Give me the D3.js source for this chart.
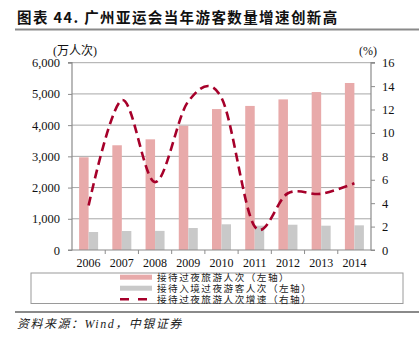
<!DOCTYPE html>
<html><head><meta charset="utf-8">
<script src="https://cdn.jsdelivr.net/npm/d3@7"></script>
<style>
html,body{margin:0;padding:0;background:#fff;}
svg{display:block;}
</style></head>
<body>
<svg id="c" width="419" height="338"></svg>
<script>
const years = ["2006","2007","2008","2009","2010","2011","2012","2013","2014"];
const overnight = [2970, 3355, 3545, 3980, 4515, 4615, 4825, 5060, 5350];
const inbound = [577, 609, 612, 705, 823, 779, 810, 779, 790];
const growth = [3.8, 12.8, 5.8, 12.7, 13.0, 2.0, 4.85, 4.8, 5.7];
const leftTicks = [0, 1000, 2000, 3000, 4000, 5000, 6000];
const rightTicks = [0, 2, 4, 6, 8, 10, 12, 14, 16];
const legendLabels = ["接待过夜旅游人次（左轴）", "接待入境过夜游客人次（左轴）", "接待过夜旅游人次增速（右轴）"];

const svg = d3.select("#c");
const L = 72, R = 371, T = 62.7, B = 250;
const serif = "'Liberation Serif','Times New Roman',serif";
const cjk = "'Liberation Serif','Noto Sans CJK SC',serif";
const pink = "#E8AAAA", grey = "#C9C9C9", red = "#A6002A", axisCol = "#8c8c8c";

// Title
svg.append("text").attr("x", 17).attr("y", 23)
  .attr("font-family", "'Noto Sans CJK SC',sans-serif").attr("font-weight", 700)
  .attr("font-size", 14.5).attr("letter-spacing", 1.4).attr("fill", "#111")
  .text("图表 44. 广州亚运会当年游客数量增速创新高");
svg.append("line").attr("x1", 15).attr("x2", 419).attr("y1", 29.5).attr("y2", 29.5)
  .attr("stroke", "#8a8a8a").attr("stroke-width", 2);

const x = d3.scaleBand().domain(years).range([L, R]);
const yL = d3.scaleLinear().domain([0, 6000]).range([B, T]);
const yR = d3.scaleLinear().domain([0, 16]).range([B, T]);

// gridlines
svg.append("g").selectAll("line").data(leftTicks.filter(d => d > 0)).join("line")
  .attr("x1", L).attr("x2", R).attr("y1", d => yL(d)).attr("y2", d => yL(d))
  .attr("stroke", "#a8a8a8").attr("stroke-width", 1);

// bars
const bw = 9.5;
svg.append("g").selectAll("rect").data(overnight).join("rect")
  .attr("x", (d, i) => x(years[i]) + x.bandwidth() / 2 - bw)
  .attr("width", bw).attr("y", d => yL(d)).attr("height", d => B - yL(d))
  .attr("fill", pink);
svg.append("g").selectAll("rect").data(inbound).join("rect")
  .attr("x", (d, i) => x(years[i]) + x.bandwidth() / 2)
  .attr("width", bw).attr("y", d => yL(d)).attr("height", d => B - yL(d))
  .attr("fill", grey);

// axes
const gL = svg.append("g").attr("transform", `translate(${L},0)`)
  .call(d3.axisLeft(yL).tickValues(leftTicks).tickSize(4).tickPadding(8).tickFormat(d3.format(",")));
const gR = svg.append("g").attr("transform", `translate(${R},0)`)
  .call(d3.axisRight(yR).tickValues(rightTicks).tickSize(4).tickPadding(7));
const gB = svg.append("g").attr("transform", `translate(0,${B})`)
  .call(d3.axisBottom(x).tickSize(0).tickPadding(8));
// boundary ticks on bottom axis
svg.append("g").selectAll("line").data(years.slice(1)).join("line")
  .attr("x1", d => x(d)).attr("x2", d => x(d)).attr("y1", B).attr("y2", B + 4)
  .attr("stroke", axisCol);
[gL, gR, gB].forEach(g => {
  g.selectAll("path").attr("stroke", axisCol).attr("stroke-width", 1.2);
  g.selectAll(".tick line").attr("stroke", axisCol);
  g.selectAll("text").attr("font-family", serif).attr("font-size", 12.5).attr("fill", "#111");
});
gB.selectAll("text").attr("font-size", 12);
gL.select("path").attr("d", `M-4,${B}H0V${T}H-4`);
gR.select("path").attr("d", `M4,${B}H0V${T}H4`);
gB.select("path").attr("d", `M${L},0H${R}`);

// unit labels
svg.append("text").attr("x", 53).attr("y", 55).attr("font-family", cjk).attr("font-size", 12)
  .attr("fill", "#111").text("(万人次)");
svg.append("text").attr("x", 359).attr("y", 55).attr("font-family", serif).attr("font-size", 12)
  .attr("fill", "#111").text("(%)");

// line
const line = d3.line()
  .x((d, i) => x(years[i]) + x.bandwidth() / 2)
  .y(d => yR(d))
  .curve(d3.curveCardinal.tension(0));
svg.append("path").datum(growth).attr("d", line)
  .attr("fill", "none").attr("stroke", red).attr("stroke-width", 2.6)
  .attr("stroke-dasharray", "9,5");

// legend box
svg.append("rect").attr("x", 31).attr("y", 273).attr("width", 372).attr("height", 30.5)
  .attr("fill", "none").attr("stroke", "#9a9a9a").attr("stroke-width", 1);
const ly = [277.2, 288.2, 299.2];
svg.append("rect").attr("x", 120).attr("y", ly[0] - 2.5).attr("width", 32).attr("height", 5).attr("fill", pink);
svg.append("rect").attr("x", 120).attr("y", ly[1] - 2.5).attr("width", 32).attr("height", 5).attr("fill", grey);
svg.append("line").attr("x1", 120).attr("x2", 152).attr("y1", ly[2]).attr("y2", ly[2])
  .attr("stroke", red).attr("stroke-width", 2.6).attr("stroke-dasharray", "9,9");
svg.append("g").selectAll("text").data(legendLabels).join("text")
  .attr("x", 157).attr("y", (d, i) => ly[i] + 3.6)
  .attr("font-family", "'Liberation Serif','Noto Sans CJK SC',serif").attr("font-size", 9.6)
  .attr("letter-spacing", 1.5).attr("fill", "#222").text(d => d);

// footer
svg.append("line").attr("x1", 15).attr("x2", 419).attr("y1", 312).attr("y2", 312)
  .attr("stroke", "#8a8a8a").attr("stroke-width", 2);
svg.append("text").attr("x", 17).attr("y", 328)
  .attr("font-family", "'Liberation Serif','Noto Sans CJK SC',serif").attr("font-style", "italic")
  .attr("font-size", 12).attr("letter-spacing", 1.5).attr("fill", "#222")
  .text("资料来源：Wind，中银证券");
</script>
</body></html>
